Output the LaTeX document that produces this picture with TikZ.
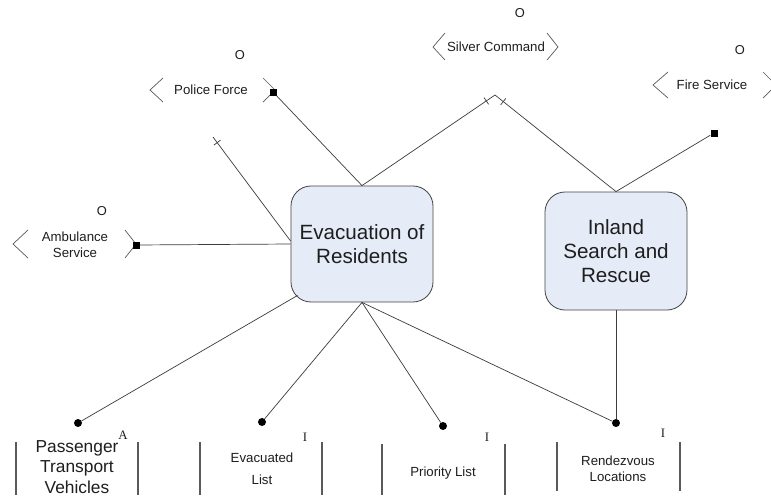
\documentclass[tikz,border=0pt]{standalone}
\usepackage{fontspec}
\setmainfont{Liberation Sans}
\newfontfamily\serifA{Liberation Serif}
\usetikzlibrary{calc,decorations.markings}
\definecolor{boxfill}{RGB}{229,236,247}
\definecolor{boxline}{RGB}{70,70,70}
\definecolor{conn}{RGB}{60,60,60}
\definecolor{txt}{RGB}{30,30,30}
\definecolor{barc}{RGB}{90,90,90}
\tikzset{
  procbox/.style={draw=boxline, fill=boxfill, rounded corners=0.6cm, line width=0.7pt,
    minimum width=4.26cm, align=center, text=txt, inner sep=0pt,
    font=\fontsize{17.6}{20.6}\selectfont},
  conline/.style={draw=conn, line width=0.6pt},
  sqr/.style={rectangle, fill=black, minimum size=0.21cm, inner sep=0pt},
  dotn/.style={circle, fill=black, minimum size=0.24cm, inner sep=0pt},
  ent/.style={align=center, text=txt, inner sep=0pt, font=\fontsize{11.3}{14}\selectfont},
  entbig/.style={align=center, text=txt, inner sep=0pt, font=\fontsize{14.8}{17.2}\selectfont},
  entsmall/.style={align=center, text=txt, inner sep=0pt, font=\fontsize{11.3}{18.5}\selectfont},
  olab/.style={text=txt, inner sep=0pt, font=\fontsize{11}{13}\selectfont},
  serlab/.style={text=txt, inner sep=0pt, font=\serifA\fontsize{11}{13}\selectfont},
  brack/.style={draw=barc, line width=0.6pt},
  sidebar/.style={draw=barc, line width=1.2pt},
  tickat/.style={postaction={decorate},
    decoration={markings, mark=at position #1 with {\draw[conn, line width=0.6pt] (0,-3.5pt)--(0,3.5pt);}}}
}
\begin{document}
\begin{tikzpicture}[x=0.03cm, y=-0.03cm]
\clip (0,0) rectangle (771,495);
\fill[white] (0,0) rectangle (771,495);

% process boxes
\node[procbox, minimum height=3.48cm] (evac) at (362,244) {Evacuation of\\Residents};
\node[procbox, minimum height=3.54cm] (inland) at (616,251) {Inland\\Search and\\Rescue};

% entity labels (top)
\node[ent] (pf) at (211,90) {Police Force};
\node[olab] (pfo) at (240,55) {O};
\draw[brack] (163,78) -- (150,90) -- (163,102);
\draw[brack] (263,78) -- (275,90) -- (263,102);
\node[sqr] (pfsq) at (273,92) {};

\node[ent] (sc) at (496,47) {Silver Command};
\node[olab] (sco) at (520,13) {O};
\draw[brack] (445,33) -- (433,47) -- (445,60);
\draw[brack] (547,33) -- (558,47) -- (547,60);
\coordinate (peak) at (495,95);

\node[ent] (fs) at (712,85) {Fire Service};
\node[olab] (fso) at (740,50) {O};
\draw[brack] (668,72) -- (653,85) -- (668,98);
\draw[brack] (763,72) -- (776,85) -- (763,98);
\node[sqr] (fssq) at (714,133) {};

\node[ent] (amb) at (75,245) {Ambulance\\Service};
\node[olab] (ambo) at (102,211) {O};
\draw[brack] (28,230) -- (13,244) -- (28,258);
\draw[brack] (125,230) -- (136,244) -- (125,258);
\node[sqr] (amsq) at (136,245) {};

\coordinate (tk) at (213,137);

% entity labels (bottom)
\node[entbig] (ptv) at (77,467) {Passenger\\Transport\\Vehicles};
\node[serlab] (ptva) at (123,435) {A};
\draw[sidebar] (16,442) -- (16,495);
\draw[sidebar] (138,442) -- (138,495);
\node[dotn] (pdot) at (78,423) {};

\node[entsmall] (evl) at (262,469) {Evacuated\\List};
\node[serlab] (evli) at (305,437) {I};
\draw[sidebar] (200,442) -- (200,495);
\draw[sidebar] (322,442) -- (322,495);
\node[dotn] (edot) at (262,422) {};

\node[ent] (prl) at (443,473) {Priority List};
\node[serlab] (prli) at (487,437) {I};
\draw[sidebar] (382,444) -- (382,495);
\draw[sidebar] (505,444) -- (505,495);
\node[dotn] (prdot) at (443,426) {};

\node[ent] (rzl) at (618,469) {Rendezvous\\Locations};
\node[serlab] (rzli) at (663,433) {I};
\draw[sidebar] (557,442) -- (557,491);
\draw[sidebar] (680,442) -- (680,491);
\node[dotn] (rdot) at (616,423) {};

% connectors
\draw[conline, tickat=-9pt] (evac.north) -- (peak);
\draw[conline, tickat=-9pt] (inland.north) -- (peak);
\draw[conline] (pfsq) -- (evac.north);
\draw[conline, tickat=6pt] (tk) -- ($(evac.west)+(0,-3)$);
\draw[conline] (amsq) -- (evac.west);
\draw[conline] (fssq) -- (inland.north);
\draw[conline] (pdot) -- ($(evac.south west)+(7,-7)$);
\draw[conline] (edot) -- (evac.south);
\draw[conline] (prdot) -- (evac.south);
\draw[conline] (rdot) -- (evac.south);
\draw[conline] (rdot) -- (inland.south);
\end{tikzpicture}
\end{document}
